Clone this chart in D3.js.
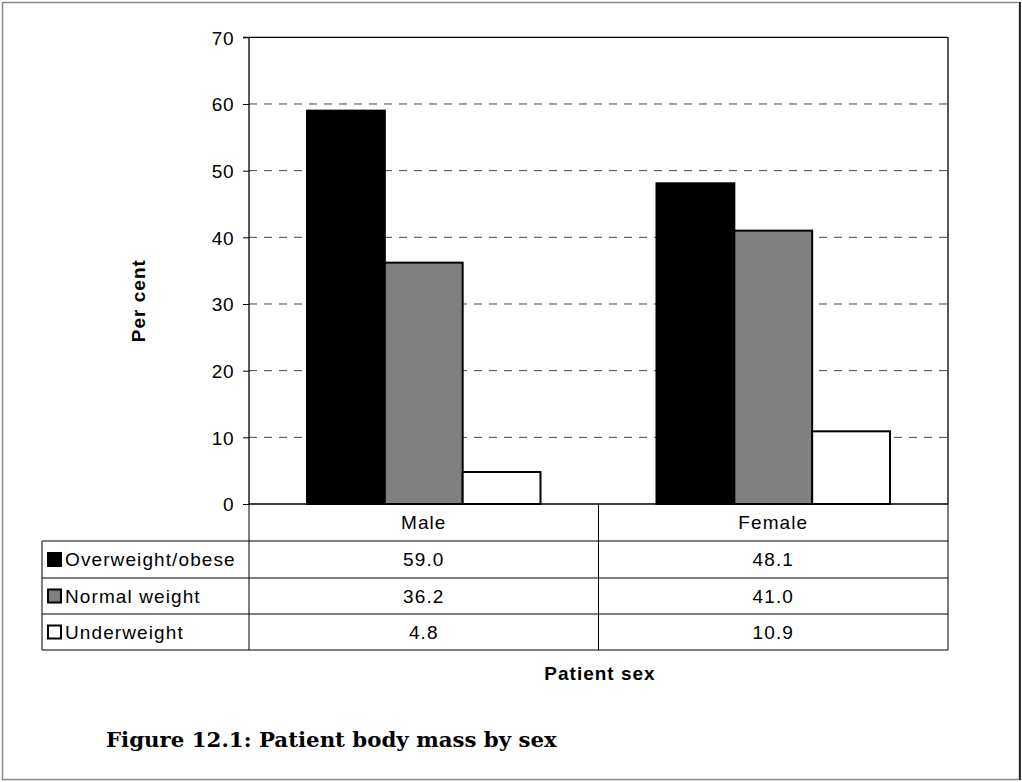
<!DOCTYPE html>
<html><head><meta charset="utf-8">
<script src="https://cdn.jsdelivr.net/npm/d3@7/dist/d3.min.js"></script>
<style>body{margin:0;background:#fff}svg{display:block}</style>
</head><body>
<script>
const categories = ["Male", "Female"];
const seriesNames = ["Overweight/obese", "Normal weight", "Underweight"];
const overweight = [59.0, 48.1];
const normal = [36.2, 41.0];
const underweight = [4.8, 10.9];
const yTicks = [0, 10, 20, 30, 40, 50, 60, 70];
const title = "Figure 12.1: Patient body mass by sex";
const yLabel = "Per cent";
const xLabel = "Patient sex";

const seriesValues = [overweight, normal, underweight];
const colors = ["#000000", "#808080", "#ffffff"];

const W = 1022, H = 782;
const svg = d3.select("body").append("svg").attr("width", W).attr("height", H);
const font = "'Liberation Sans', Arial, sans-serif";

// frame
svg.append("rect").attr("x", 2.5).attr("y", 2.5).attr("width", 1017).attr("height", 777)
  .attr("fill", "none").attr("stroke", "#888").attr("stroke-width", 1.5);
svg.append("line").attr("x1", 1020).attr("x2", 1020).attr("y1", 2).attr("y2", 780).attr("stroke", "#000").attr("stroke-width", 1.5);

const L = 249, R = 948, T = 37.3, B = 504;
const x = d3.scaleBand().domain(categories).range([L, R]);
const xs = d3.scaleBand().domain(seriesNames).range([0, x.bandwidth()]).paddingOuter(0.745).paddingInner(0);
const y = d3.scaleLinear().domain([0, 70]).range([B, T]);

// gridlines
svg.append("g").selectAll("line").data(yTicks.filter(d => d > 0 && d < 70)).join("line")
  .attr("x1", L).attr("x2", R).attr("y1", d => y(d)).attr("y2", d => y(d))
  .attr("stroke", "#444").attr("stroke-dasharray", "8,7").attr("stroke-width", 1);

// plot box
svg.append("line").attr("x1", L).attr("x2", R).attr("y1", T).attr("y2", T).attr("stroke", "#000").attr("stroke-width", 1.3);
svg.append("line").attr("x1", R).attr("x2", R).attr("y1", T).attr("y2", B).attr("stroke", "#000").attr("stroke-width", 1.3);

// bars
const bars = [];
categories.forEach((c, ci) => seriesNames.forEach((s, si) => bars.push({c, s, si, v: seriesValues[si][ci]})));
svg.append("g").selectAll("rect").data(bars).join("rect")
  .attr("x", d => x(d.c) + xs(d.s))
  .attr("y", d => y(d.v))
  .attr("width", xs.bandwidth())
  .attr("height", d => B - y(d.v))
  .attr("fill", d => colors[d.si]).attr("stroke", "#000").attr("stroke-width", 2);

// y axis
const yAxis = d3.axisLeft(y).tickValues(yTicks).tickSize(6).tickFormat(d3.format("d"));
const ga = svg.append("g").attr("transform", `translate(${L},0)`).call(yAxis);
ga.select(".domain").attr("stroke", "#000").attr("stroke-width", 1.3).attr("d", `M-6,${T}H0V${B}`);
ga.selectAll(".tick line").attr("x1", -6).attr("x2", 0).attr("stroke", "#000");
ga.selectAll(".tick text").attr("x", -15).attr("dy", "0.36em").style("font-family", font).style("font-size", "19px")
  .style("letter-spacing", "0.5px").attr("fill", "#000");

// table
const rowH = [504, 541, 578, 614, 650];
const tL = 42;
const tg = svg.append("g").attr("stroke", "#000").attr("stroke-width", 1);
tg.append("line").attr("x1", L).attr("x2", R).attr("y1", B).attr("y2", B).attr("stroke-width", 1.5);
[1, 2, 3, 4].forEach(i => tg.append("line").attr("x1", tL).attr("x2", R).attr("y1", rowH[i]).attr("y2", rowH[i]));
tg.append("line").attr("x1", tL).attr("x2", tL).attr("y1", rowH[1]).attr("y2", rowH[4]);
tg.append("line").attr("x1", L).attr("x2", L).attr("y1", B).attr("y2", rowH[4]);
tg.append("line").attr("x1", x("Female")).attr("x2", x("Female")).attr("y1", B).attr("y2", rowH[4]);
tg.append("line").attr("x1", R).attr("x2", R).attr("y1", B).attr("y2", rowH[4]);

const txt = (sel) => sel.style("font-family", font).style("font-size", "19px").attr("fill", "#000").style("letter-spacing", "1.1px");
svg.append("g").selectAll("text").data(categories).join("text")
  .attr("x", d => x(d) + x.bandwidth() / 2).attr("y", (rowH[0] + rowH[1]) / 2).attr("dy", "0.36em")
  .attr("text-anchor", "middle").text(d => d).call(txt);
seriesNames.forEach((s, si) => {
  const cy = (rowH[si + 1] + rowH[si + 2]) / 2;
  svg.append("rect").attr("x", 48).attr("y", cy - 6.5).attr("width", 13).attr("height", 13)
    .attr("fill", colors[si]).attr("stroke", "#000").attr("stroke-width", 2);
  svg.append("text").attr("x", 65).attr("y", cy).attr("dy", "0.36em").text(s).call(txt);
  categories.forEach((c, ci) => {
    svg.append("text").attr("x", x(c) + x.bandwidth() / 2).attr("y", cy).attr("dy", "0.36em")
      .attr("text-anchor", "middle").text(seriesValues[si][ci].toFixed(1)).call(txt);
  });
});

// axis labels
svg.append("text").attr("transform", `translate(145,${(T + B) / 2 + 30}) rotate(-90)`)
  .attr("text-anchor", "middle").style("font-family", font).style("font-size", "19px").style("font-weight", "bold")
  .style("letter-spacing", "1px").text(yLabel);
svg.append("text").attr("x", 600).attr("y", 680).attr("text-anchor", "middle")
  .style("font-family", font).style("font-size", "19px").style("font-weight", "bold").style("letter-spacing", "1px").text(xLabel);

// title
svg.append("text").attr("x", 106).attr("y", 747)
  .style("font-family", "'DejaVu Serif', 'Liberation Serif', serif").style("font-size", "21.3px").style("font-weight", "bold")
  .text(title);
</script>
</body></html>
